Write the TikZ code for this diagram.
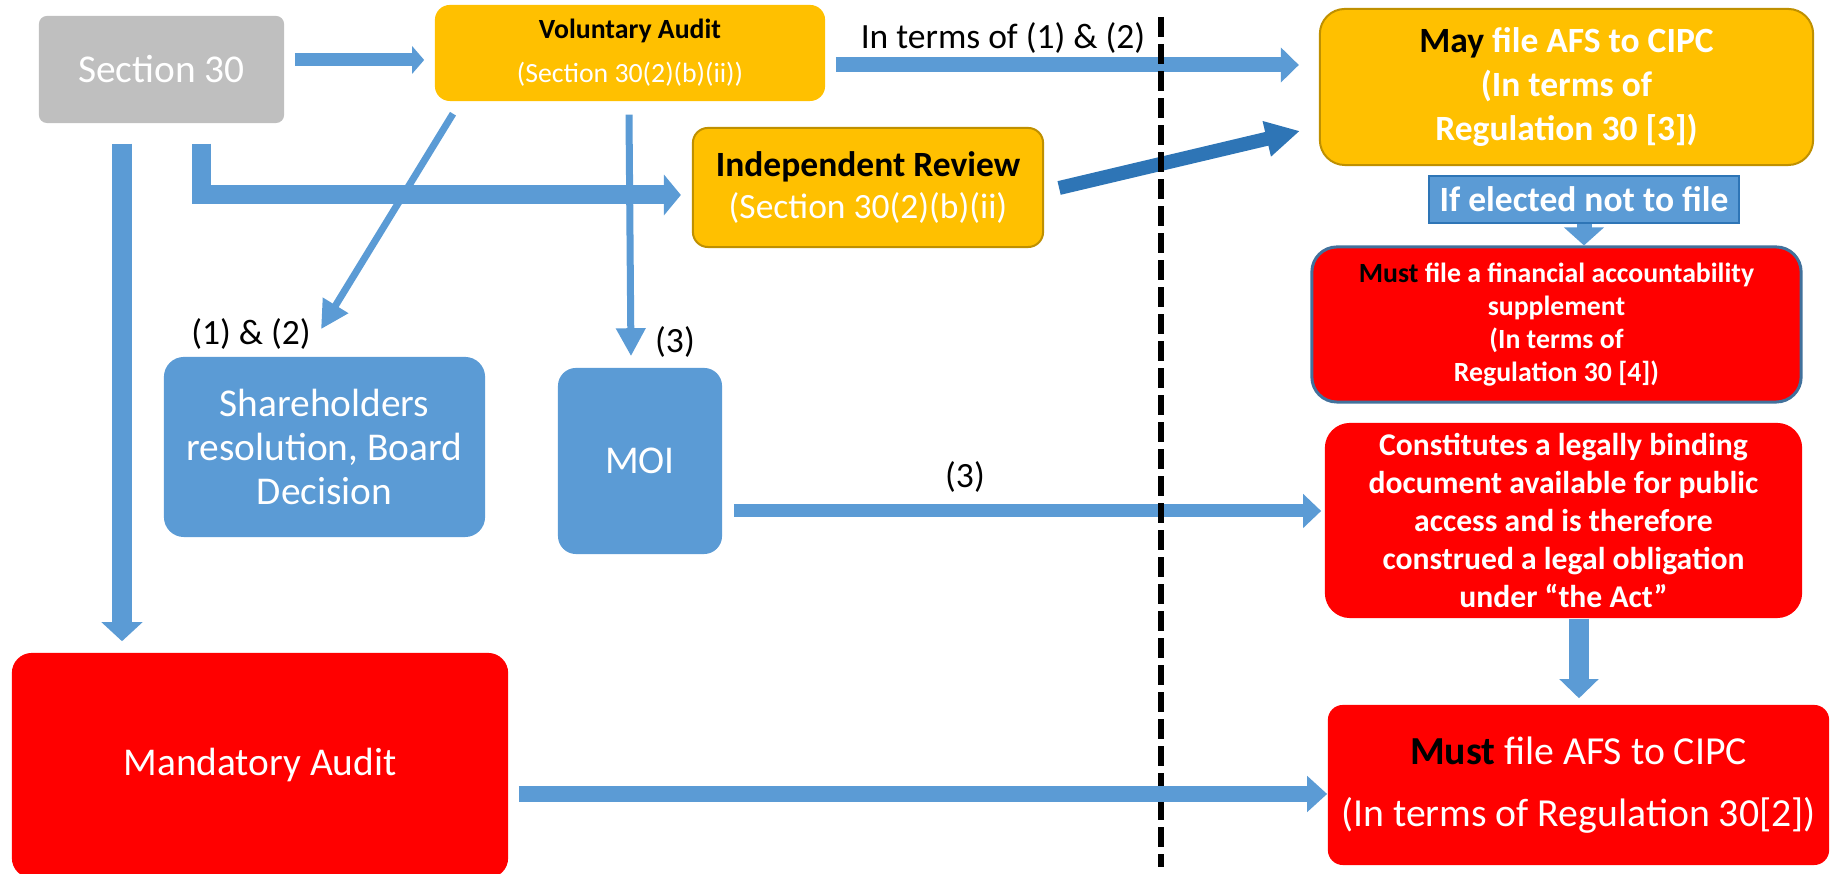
\documentclass[tikz,border=0pt]{standalone}
\usepackage{fontspec}
\setmainfont{Carlito}
\usetikzlibrary{arrows.meta,calc}

\definecolor{secgray}{HTML}{BFBFBF}
\definecolor{gold}{HTML}{FFC000}
\definecolor{goldedge}{HTML}{BF9000}
\definecolor{boxblue}{HTML}{5B9BD5}
\definecolor{edgeblue}{HTML}{41719C}
\definecolor{darkblue}{HTML}{2E75B6}
\definecolor{alertred}{HTML}{FF0000}

\newcommand{\fsbig}{\fontsize{11.2}{12.5}\selectfont}
\newcommand{\fsmid}{\fontsize{10.1}{12.4}\selectfont}

\tikzstyle{every node}=[inner sep=0pt, text=white, align=center]
\tikzstyle{lbl}=[text=black, font=\fsmid]
\tikzstyle{thinarrow}=[draw=boxblue, line width=0.07cm, -{Triangle[width=0.28cm, length=0.28cm]}]
\tikzset{fatarrow/.style n args={4}{draw=#1, line width=#2, -{Triangle[width=#3, length=#4]}}}

\begin{document}
\begin{tikzpicture}[x=0.01cm, y=-0.01cm]
    \useasboundingbox (0,0) rectangle (1832,874);

    \path (161.5,69.5) node[fill=secgray, rounded corners=0.08cm, minimum width=2.45cm, minimum height=1.07cm, font=\fsbig] (sec30) {Section 30};
    \path (630,53) node[fill=gold, rounded corners=0.15cm, minimum width=3.9cm, minimum height=0.96cm, font=\fontsize{7.9}{12.5}\selectfont] (volaudit)
      {{\bfseries\color{black}Voluntary Audit}\\(Section 30(2)(b)(ii))};
    \path (868,187.5) node[fill=gold, draw=goldedge, line width=0.02cm, rounded corners=0.15cm, minimum width=3.5cm, minimum height=1.19cm, font=\fontsize{10.1}{12.2}\selectfont] (indep)
      {{\bfseries\color{black}Independent Review}\\(Section 30(2)(b)(ii)};
    \path (1566.5,87) node[fill=gold, draw=goldedge, line width=0.02cm, rounded corners=0.25cm, minimum width=4.93cm, minimum height=1.56cm, font=\fontsize{10.1}{12.5}\selectfont\bfseries] (mayfile)
      {\textcolor{black}{May} file AFS to CIPC\\(In terms of\\Regulation 30 [3])};
    \path (1584,199.5) node[fill=boxblue, draw=darkblue, line width=0.02cm, minimum width=3.1cm, minimum height=0.47cm, font=\fsmid\bfseries] (elected) {If elected not to file};
    \path (1556.5,324.5) node[fill=alertred, draw=edgeblue, line width=0.03cm, rounded corners=0.25cm, minimum width=4.89cm, minimum height=1.55cm, font=\fontsize{7.9}{9.4}\selectfont\bfseries] (supplement)
      {\textcolor{black}{Must} file a financial accountability\\supplement\\(In terms of\\Regulation 30 [4])};
    \path (1563.5,520.5) node[fill=alertred, rounded corners=0.25cm, minimum width=4.77cm, minimum height=1.95cm, font=\fontsize{9}{10.8}\selectfont\bfseries] (constitutes)
      {Constitutes a legally binding\\document available for public\\access and is therefore\\construed a legal obligation\\under “the Act”};
    \path (1578.5,785) node[fill=alertred, rounded corners=0.15cm, minimum width=5.01cm, minimum height=1.6cm, font=\fontsize{11.3}{17.6}\selectfont] (mustfile)
      {\textcolor{black}{\bfseries Must} file AFS to CIPC\\(In terms of Regulation 30[2])};
    \path (260,765.5) node[fill=alertred, rounded corners=0.2cm, minimum width=4.96cm, minimum height=2.25cm, font=\fsbig] (mandatory) {Mandatory Audit};
    \path (324.5,447) node[fill=boxblue, rounded corners=0.2cm, minimum width=3.21cm, minimum height=1.8cm, font=\fsbig] (holders)
      {Shareholders\\resolution, Board\\Decision};
    \path (640,461) node[fill=boxblue, rounded corners=0.18cm, minimum width=1.64cm, minimum height=1.86cm, font=\fsbig] (moi) {MOI};

    \path (1003,38) node[lbl] (lblterms) {In terms of (1) \& (2)};
    \path (251,334) node[lbl] (lblholders) {(1) \& (2)};
    \path (675,342) node[lbl] (lblmoi) {(3)};
    \path (965,477) node[lbl] (lblpublic) {(3)};

    \draw[fatarrow={boxblue}{0.15cm}{0.34cm}{0.18cm}] ($(volaudit.east)+(10,12)$) -- ($(mayfile.west)+(-20,-22)$);
    \draw[fatarrow={darkblue}{0.14cm}{0.34cm}{0.34cm}] ($(indep.east)+(15,0.5)$) -- ($(mayfile.west)+(-19,44)$);
    \draw[fatarrow={boxblue}{0.13cm}{0.33cm}{0.18cm}] ($(moi.east)+(11,50)$) -- ($(constitutes.west)+(-3,-9.5)$);

    \draw[line width=0.06cm, dash pattern=on 0.2cm off 0.07cm] (1161,17) -- (1161,867);

    \draw[fatarrow={boxblue}{0.13cm}{0.27cm}{0.12cm}] ($(sec30.east)+(10,-9.5)$) -- ($(volaudit.west)+(-10,7)$);
    \draw[fatarrow={boxblue}{0.19cm}{0.4cm}{0.17cm}] ($(sec30.south)+(40,20)$) |- ($(indep.west)+(-11,7.5)$);
    \draw[fatarrow={boxblue}{0.19cm}{0.4cm}{0.19cm}] ($(sec30.south)+(-39.5,20)$) -- ($(mandatory.north)+(-138,-11)$);
    \draw[thinarrow] ($(volaudit.south)+(-177,12)$) -- ($(holders.north)+(-3.5,-27)$);
    \draw[thinarrow] ($(volaudit.south)+(-1,13)$) -- ($(moi.north)+(-9,-11)$);
    \draw[fatarrow={boxblue}{0.15cm}{0.39cm}{0.18cm}] (elected.south) -- (elected.south |- supplement.north);
    \draw[fatarrow={boxblue}{0.2cm}{0.38cm}{0.19cm}] ($(constitutes.south)+(15.5,0)$) -- ($(mustfile.north)+(0.5,-6)$);
    \draw[fatarrow={boxblue}{0.16cm}{0.35cm}{0.2cm}] ($(mandatory.east)+(10,28.5)$) -- ($(mustfile.west)+(0,9)$);
\end{tikzpicture}
\end{document}
